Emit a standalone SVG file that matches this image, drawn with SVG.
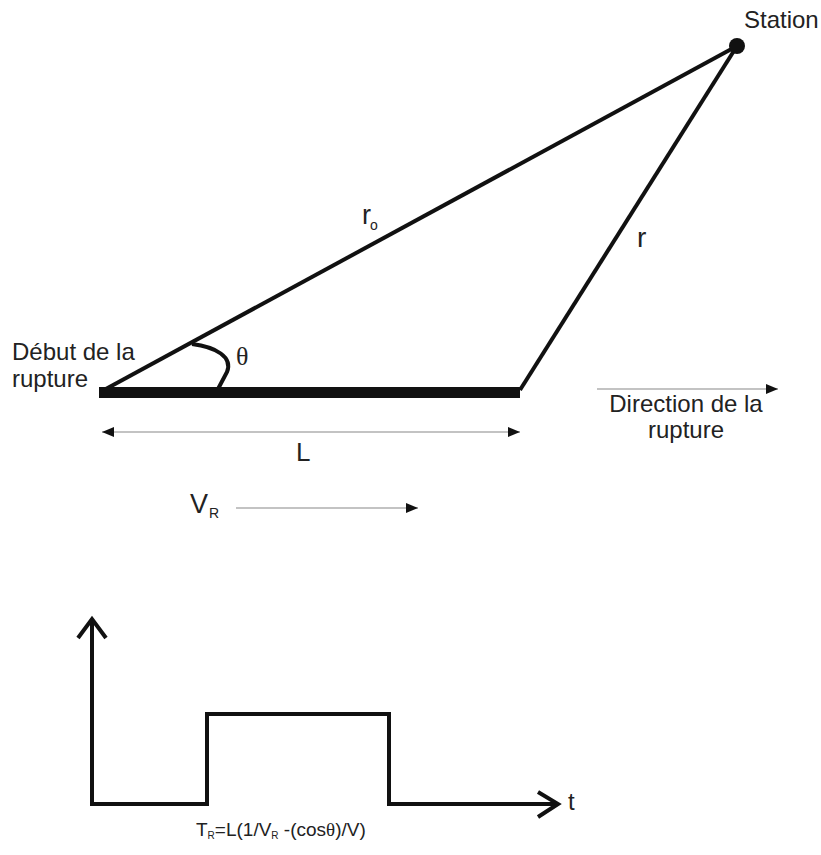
<svg xmlns="http://www.w3.org/2000/svg" width="821" height="855" viewBox="0 0 821 855">
<defs>
<style>
.t{font-family:"Liberation Sans",Arial,sans-serif;fill:#222}
.lbl{font-size:24px}
.thin{stroke:#888;stroke-width:1.2;fill:none}
.thick{stroke:#111;stroke-width:4;fill:none}
</style>
<marker id="ah" viewBox="0 0 12 10" refX="12" refY="5" markerWidth="12" markerHeight="10" markerUnits="userSpaceOnUse" orient="auto-start-reverse">
<path d="M0,0 L12,5 L0,10 Z" fill="#111"/>
</marker>
</defs>
<rect width="821" height="855" fill="#fff"/>
<g id="connectors">
<line x1="104" y1="390" x2="737" y2="46" class="thick"/>
<line x1="520" y1="390" x2="737" y2="46" class="thick"/>
<path d="M192,344 C216,347 233,357 227,372 L218,389" class="thick" stroke-width="3"/>
<line x1="102" y1="432" x2="520" y2="432" class="thin" marker-start="url(#ah)" marker-end="url(#ah)"/>
<line x1="597" y1="389" x2="778" y2="389" class="thin" marker-end="url(#ah)"/>
<line x1="236" y1="508" x2="418" y2="508" class="thin" marker-end="url(#ah)"/>
</g>
<g id="fault">
<rect x="99" y="387" width="421" height="11" fill="#111"/>
</g>
<g id="station">
<circle cx="737" cy="46" r="8" fill="#111"/>
<text class="t lbl" x="744" y="28">Station</text>
</g>
<g id="labels">
<text class="t lbl" x="12" y="360">Début de la</text>
<text class="t lbl" x="12" y="387">rupture</text>
<text x="236" y="365" font-size="26" font-family="Liberation Serif, serif" fill="#222">θ</text>
<text class="t" x="362" y="224" font-size="27">r<tspan font-size="14" dx="-1" dy="6">o</tspan></text>
<text class="t" x="637" y="247" font-size="28">r</text>
<text class="t" x="296" y="461" font-size="26">L</text>
<text class="t lbl" x="686" y="412" text-anchor="middle">Direction de la</text>
<text class="t lbl" x="686" y="438" text-anchor="middle">rupture</text>
<text class="t" x="190" y="513" font-size="27">V<tspan font-size="14" dx="1" dy="5">R</tspan></text>
</g>
<g id="graph">
<polyline points="92,806 92,619" class="thick"/>
<polyline points="78,638 92,619 106,638" class="thick"/>
<polyline points="92,804 207,804 207,714 389,714 389,804 558,804" class="thick"/>
<polyline points="538,792 558,804 538,817" class="thick"/>
<text class="t" x="568" y="810" font-size="24">t</text>
<text class="t" x="196" y="836" font-size="19">T<tspan font-size="10" dy="3">R</tspan><tspan dy="-3">=L(1/V</tspan><tspan font-size="10" dy="3">R</tspan><tspan dy="-3"> -(cos</tspan><tspan font-family="Liberation Serif, serif">θ</tspan>)/V)</text>
</g>
</svg>
